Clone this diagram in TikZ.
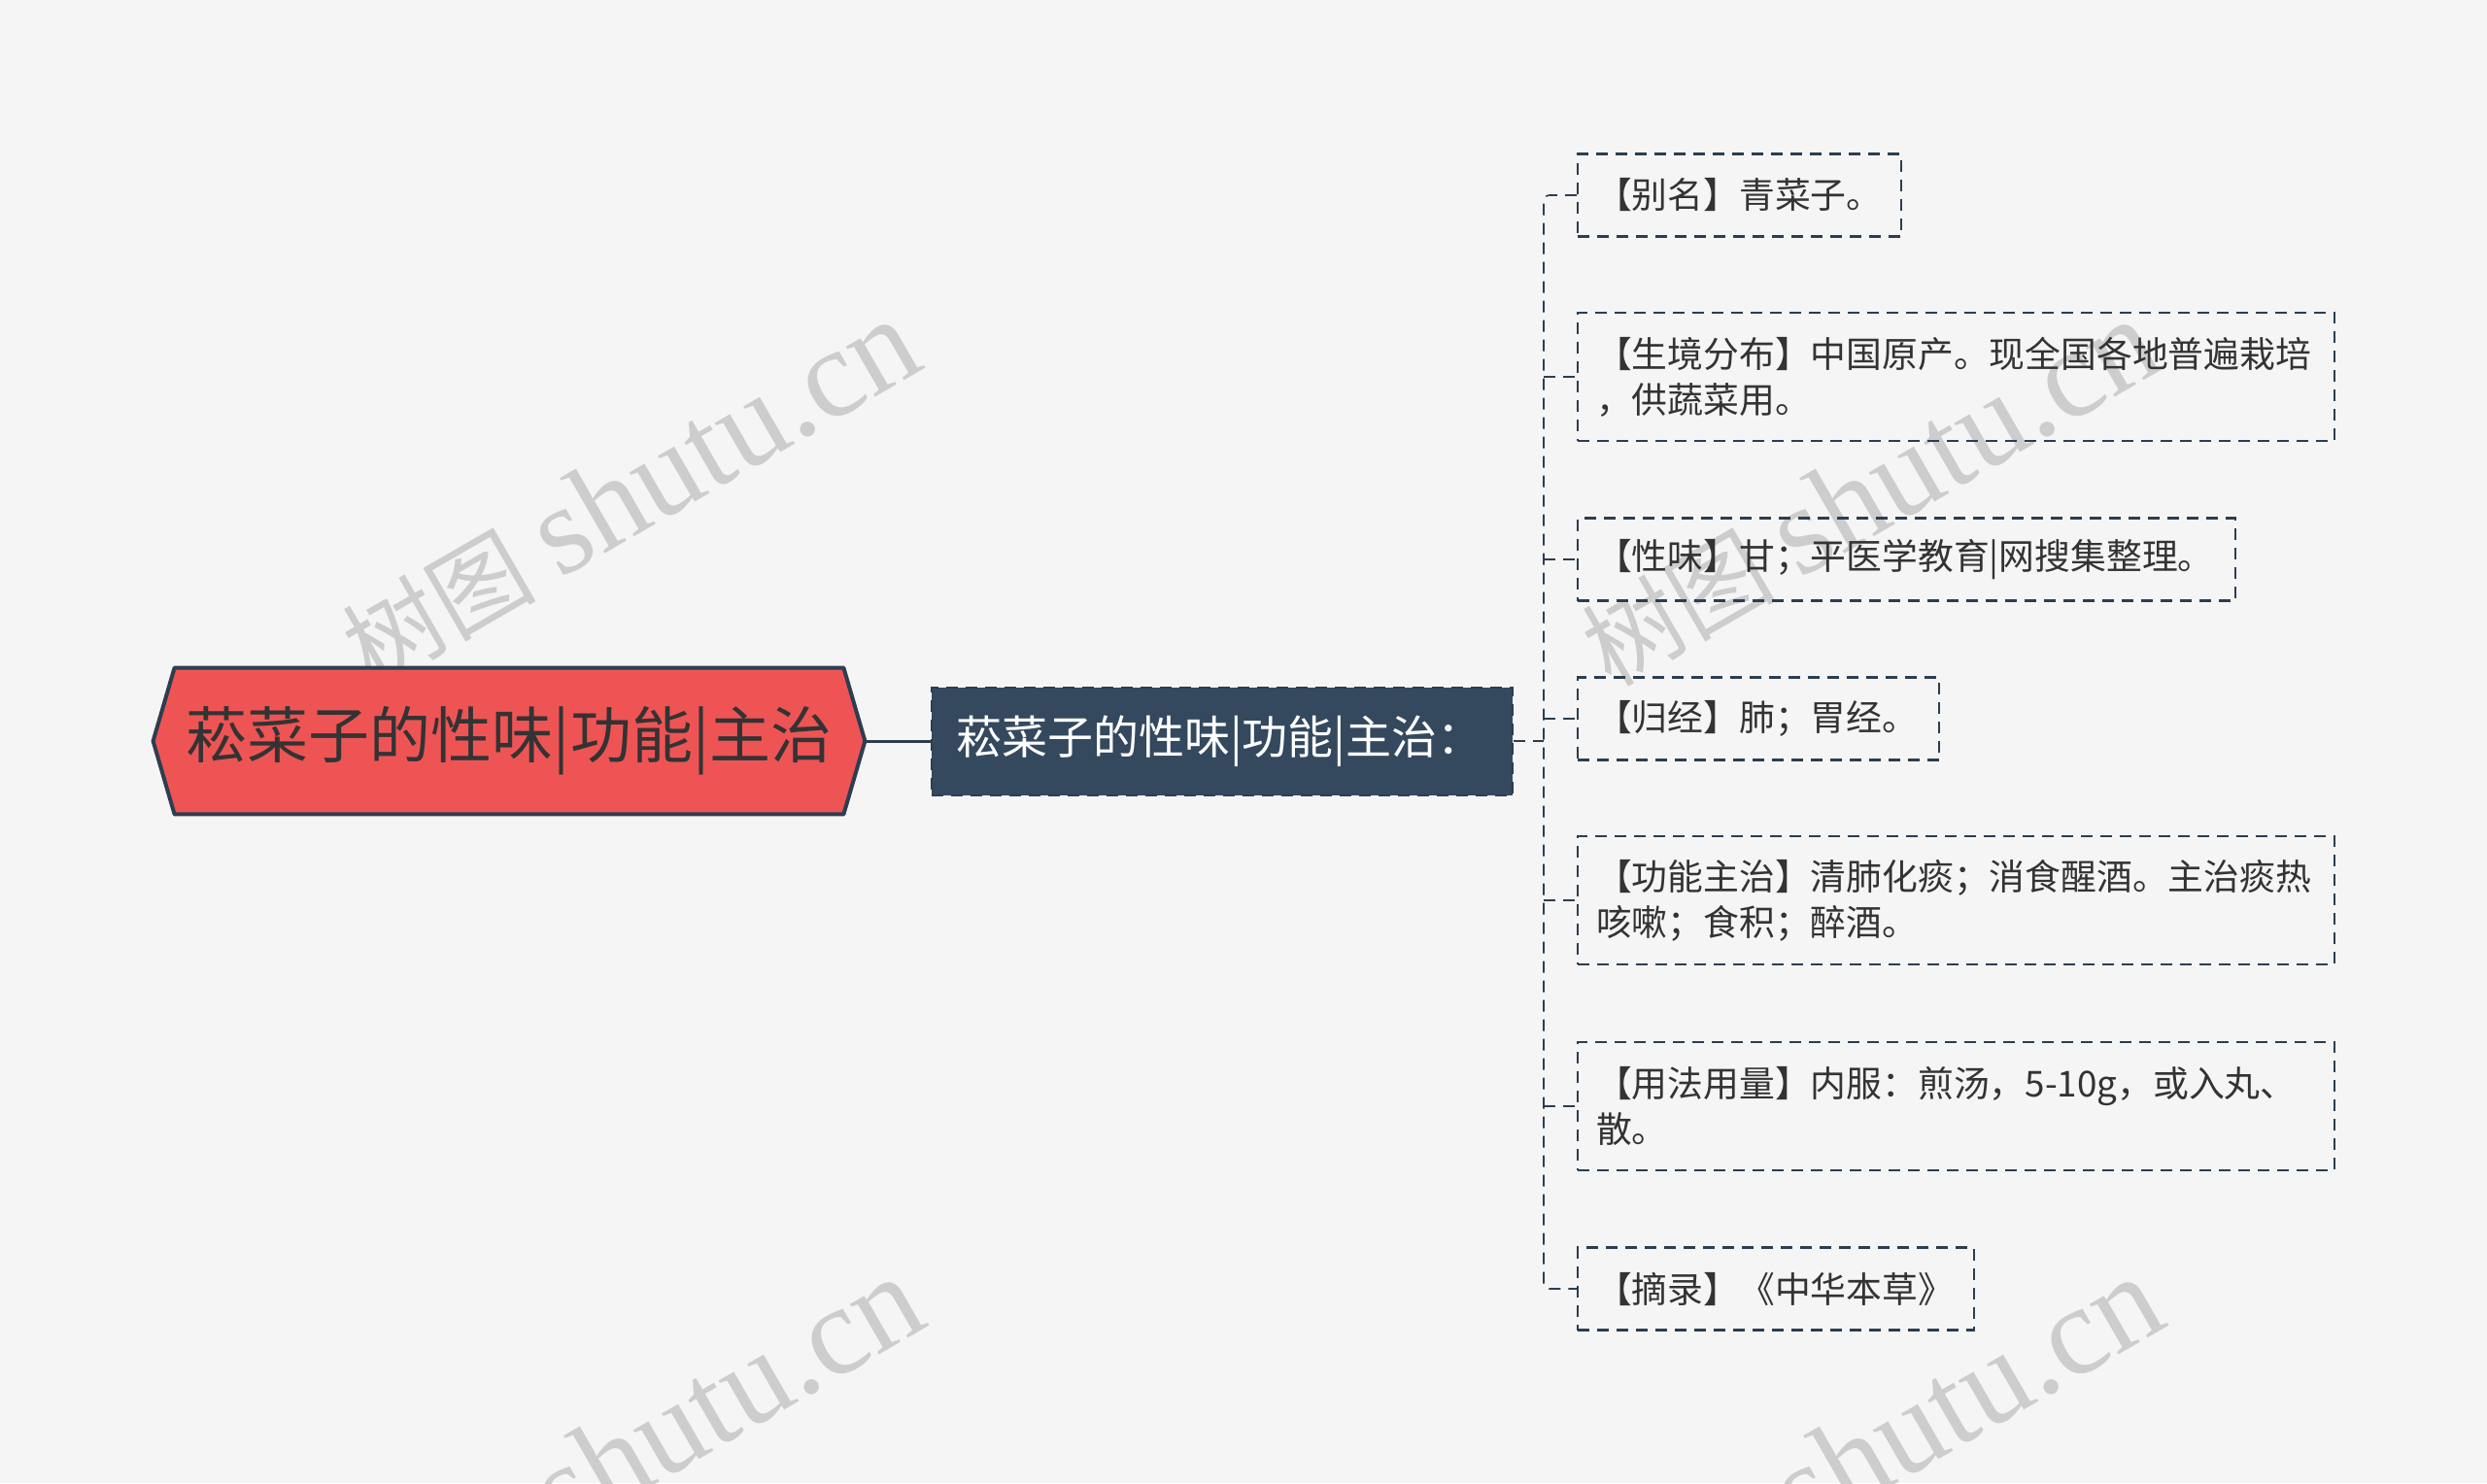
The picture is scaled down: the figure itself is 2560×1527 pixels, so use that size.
\documentclass[tikz,border=0pt]{standalone}
\usepackage{fontspec}
\setmainfont{Noto Sans CJK SC}
\newfontfamily\wmlatin{Liberation Serif}
\usetikzlibrary{backgrounds}

\definecolor{bgcol}{HTML}{F5F5F5}
\definecolor{rootred}{HTML}{EF5455}
\definecolor{navy}{HTML}{2C3E50}
\definecolor{midblue}{HTML}{34495E}
\definecolor{inktext}{HTML}{333333}
\definecolor{wmgray}{HTML}{CDCDCD}

\newcommand{\wmtext}{{\fontsize{50pt}{50pt}\selectfont 树图}\hspace{12pt}{\wmlatin\fontsize{65pt}{65pt}\selectfont shutu.cn}}

\begin{document}
\begin{tikzpicture}[x=0.5pt,y=-0.5pt,
	leaf/.style={draw=navy, line width=1.1pt, dash pattern=on 6pt off 4pt, anchor=west, align=left,
		inner xsep=9.5pt, inner ysep=0pt, text=inktext, font=\fontsize{18.4pt}{23.5pt}\selectfont},
	link/.style={draw=navy, line width=0.8pt, dash pattern=on 6pt off 4pt},
	watermark/.style={text=wmgray, rotate=30}]
	
	\useasboundingbox (0,0) rectangle (2560,1527);
	
	% Page and watermarks
	
	\begin{scope}[on background layer]
		\fill[bgcol] (0,0) rectangle (2560,1527);
		\node[watermark] (wm1) at (648,508) {\wmtext};
		\node[watermark] (wm2) at (1924,508) {\wmtext};
		\node[watermark] (wm3) at (652,1494) {\wmtext};
		\node[watermark] (wm4) at (1928,1494) {\wmtext};
	\end{scope}
	
	% Root
	
	\node[minimum width=366pt, minimum height=75pt, inner sep=0pt, text=inktext,
		font=\fontsize{31.5pt}{31.5pt}\selectfont]
	(root) at (524,763) {菘菜子的性味|功能|主治};
	
	\begin{scope}[on background layer]
		\draw[fill=rootred, draw=navy, line width=2pt, line join=round]
		(root.west) -- ([xshift=11pt]root.north west) -- ([xshift=-11pt]root.north east)
		-- (root.east) -- ([xshift=-11pt]root.south east) -- ([xshift=11pt]root.south west) -- cycle;
	\end{scope}
	
	\node[fill=midblue, draw=navy, line width=1pt, dash pattern=on 6pt off 4pt, anchor=west,
		text width=274pt, align=left, inner xsep=12.5pt, minimum height=55.5pt, text=white,
		font=\fontsize{23.5pt}{23.5pt}\selectfont]
	(mid) at (958,763) {菘菜子的性味|功能|主治：};
	
	% Leaves
	
	\node[leaf, text width=147.5pt, minimum height=42.5pt] (alias) at (1623,201) {【别名】青菜子。};
	
	\node[leaf, text width=370.5pt, minimum height=66pt] (habitat) at (1623,388)
	{【生境分布】中国原产。现全国各地普遍栽培\\，供蔬菜用。};
	
	\node[leaf, text width=319.5pt, minimum height=42.5pt] (taste) at (1623,576) {【性味】甘；平医学教育|网搜集整理。};
	
	\node[leaf, text width=167pt, minimum height=42.5pt] (meridian) at (1623,740) {【归经】肺；胃经。};
	
	\node[leaf, text width=370.5pt, minimum height=66pt] (function) at (1623,927)
	{【功能主治】清肺化痰；消食醒酒。主治痰热\\咳嗽；食积；醉酒。};
	
	\node[leaf, text width=370.5pt, minimum height=66pt] (usage) at (1623,1139)
	{【用法用量】内服：煎汤，5-10g，或入丸、\\散。};
	
	\node[leaf, text width=185pt, minimum height=42.5pt] (source) at (1623,1327) {【摘录】《中华本草》};
	
	% Connectors
	
	\draw[navy, line width=1.5pt] (root.east) -- (mid.west);
	
	\coordinate (hub) at (1589,763);
	
	\draw[link] (mid.east) -- (hub);
	
	\draw[link, rounded corners=3pt] (alias.west) -| (hub) |- (source.west);
	
	\foreach \leafname in {habitat,taste,meridian,function,usage}
	\draw[link] (\leafname.west -| hub) -- (\leafname.west);
	
\end{tikzpicture}
\end{document}
